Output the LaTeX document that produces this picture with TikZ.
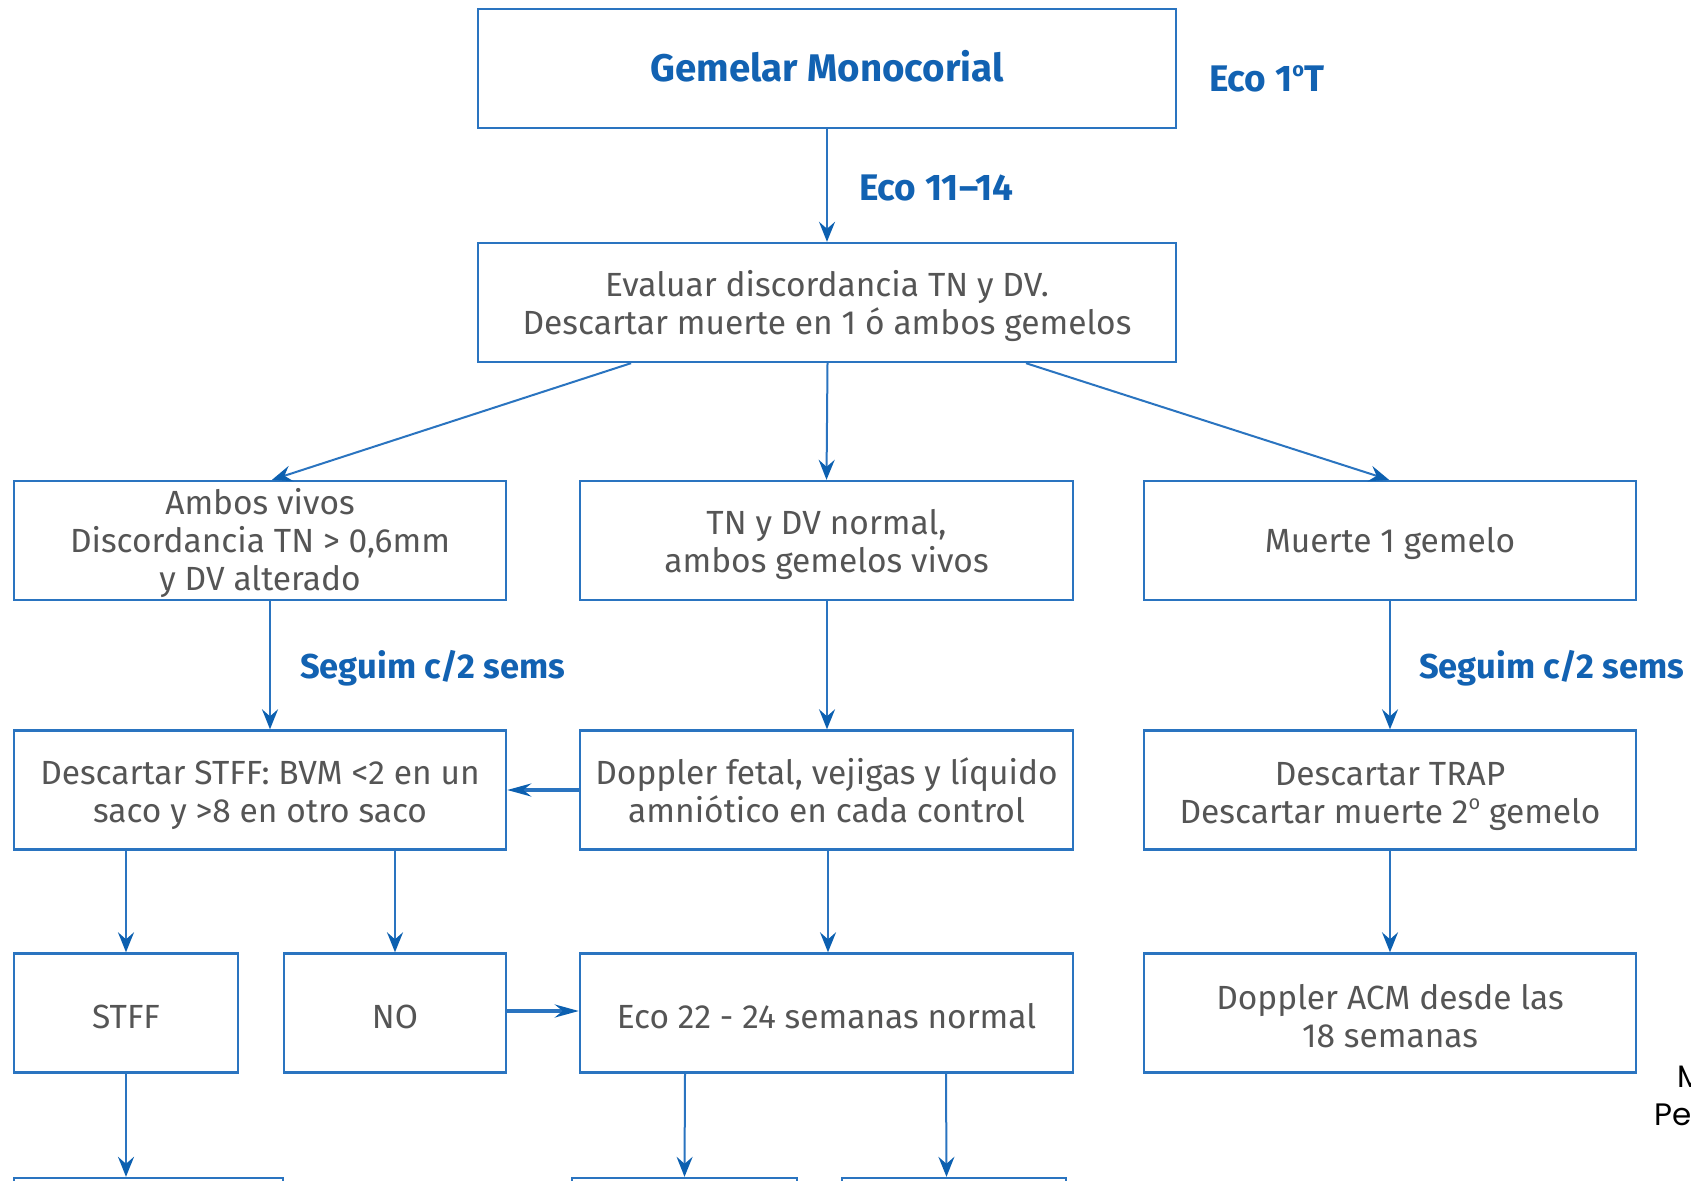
\documentclass[tikz,border=0pt]{standalone}
\usepackage{fontspec}
\setmainfont{Fira Sans}
\newfontfamily\notefont{Poppins}
\usetikzlibrary{arrows.meta}
\definecolor{linkblue}{RGB}{42,116,192}
\definecolor{tipblue}{RGB}{12,96,176}
\definecolor{headblue}{RGB}{18,98,178}
\definecolor{bodygray}{RGB}{85,85,85}
\newcommand{\ordo}{\raisebox{0.42em}{\fontsize{20}{20}\selectfont o}}
\begin{document}
\begin{tikzpicture}[x=1pt,y=-1pt,
  topstrut/.store in=\boxstrutht, topstrut=32pt,
  box/.style={draw=linkblue, line width=2.4pt, inner sep=0pt, minimum height=119pt,
    align=center, text=bodygray, font=\fontsize{33.5}{38}\selectfont,
    execute at begin node={\rule{0pt}{\boxstrutht}}},
  lines/.style={topstrut=#1}, lines/.default=72pt,
  title/.style={text=headblue, font=\fontsize{38.5}{42}\selectfont\bfseries,
    execute at begin node={\rule[-6pt]{0pt}{1pt}}},
  steplabel/.style={text=headblue, font=\fontsize{37}{40}\selectfont\bfseries, inner sep=0pt, anchor=base west},
  flow/.style={draw=linkblue, line width=2pt,
    -{Stealth[length=20pt,width=16pt,inset=7pt,color=tipblue]}},
  thickflow/.style={draw=linkblue, line width=3.4pt,
    -{Stealth[length=24pt,width=13pt,inset=8pt,color=tipblue]}},
  note/.style={font=\notefont\fontsize{31}{37}\selectfont, text=black, inner sep=0pt, anchor=base west}
]
\clip (0,0) rectangle (1691,1180);
\fill[white] (0,0) rectangle (1691,1180);

% first trimester
\node[box, minimum width=698pt, title] (top) at (827,68.5) {Gemelar Monocorial};
\node[box, lines, minimum width=698pt] (eval) at (827,302.5)
  {Evaluar discordancia TN y DV.\\Descartar muerte en 1 ó ambos gemelos};

% three branches
\node[box, lines=107pt, minimum width=492pt] (alive) at (260,540.5)
  {Ambos vivos\\Discordancia TN > 0,6mm\\y DV alterado};
\node[box, lines, minimum width=493pt] (normal) at (826.5,540.5)
  {TN y DV normal,\\ambos gemelos vivos};
\node[box, minimum width=492pt] (death) at (1390,540.5) {Muerte 1 gemelo};

% follow-up
\node[box, lines, minimum width=492pt] (stff) at (260,790)
  {Descartar STFF: BVM <2 en un\\saco y >8 en otro saco};
\node[box, lines=66pt, minimum width=493pt] (doppler) at (826.5,790)
  {Doppler fetal, vejigas y líquido\\amniótico en cada control};
\node[box, lines=74pt, minimum width=492pt] (trap) at (1390,790)
  {Descartar TRAP\\Descartar muerte 2\ordo{} gemelo};

% outcomes
\node[box, minimum width=224pt] (yes) at (126,1013) {STFF};
\node[box, minimum width=222pt] (no) at (395,1013) {NO};
\node[box, minimum width=493pt] (eco) at (826.5,1013) {Eco 22 - 24 semanas normal};
\node[box, lines=70pt, minimum width=492pt] (acm) at (1390,1013) {Doppler ACM desde las\\18 semanas};

% next row (continues below)
\node[box, minimum width=269pt] (nextA) at (148.5,1237.5) {};
\node[box, minimum width=225pt] (nextB) at (684.5,1237.5) {};
\node[box, minimum width=224pt] (nextC) at (954,1237.5) {};

% labels
\node[steplabel] (t1) at (1209,92) {Eco 1\ordo T};
\node[steplabel] (t2) at (859,200) {Eco 11–14};
\node[steplabel, font=\fontsize{34.5}{40}\selectfont\bfseries] (s1) at (300,678) {Seguim c/2 sems};
\node[steplabel, font=\fontsize{34.5}{40}\selectfont\bfseries] (s2) at (1419,678) {Seguim c/2 sems};

% connectors
\draw[flow] (top.south) -- (eval.north);
\draw[flow] ([xshift=-196pt]eval.south) -- ([xshift=12pt]alive.north);
\draw[flow] ([xshift=0.5pt]eval.south) -- (normal.north);
\draw[flow] ([xshift=199pt]eval.south) -- ([xshift=-1pt]death.north);
\draw[flow] ([xshift=10pt]alive.south) -- ([xshift=10pt]stff.north);
\draw[flow] ([xshift=0.5pt]normal.south) -- ([xshift=0.5pt]doppler.north);
\draw[flow] (death.south) -- (trap.north);
\draw[thickflow] (doppler.west) -- (stff.east);
\draw[flow] ([xshift=-134pt]stff.south) -- (yes.north);
\draw[flow] ([xshift=135pt]stff.south) -- (no.north);
\draw[flow] ([xshift=1.5pt]doppler.south) -- ([xshift=1.5pt]eco.north);
\draw[flow] (trap.south) -- (acm.north);
\draw[thickflow] ([yshift=2pt]no.east) -- ([yshift=2pt]eco.west);
\draw[flow] (yes.south) -- ([xshift=-22.5pt]nextA.north);
\draw[flow] ([xshift=-141.5pt]eco.south) -- (nextB.north);
\draw[flow] ([xshift=119.5pt]eco.south) -- ([xshift=-7.5pt]nextC.north);

% source note at the margin
\node[note] (n1) at (1677,1087) {M};
\node[note] (n2) at (1654,1125) {Pe};
\end{tikzpicture}
\end{document}
